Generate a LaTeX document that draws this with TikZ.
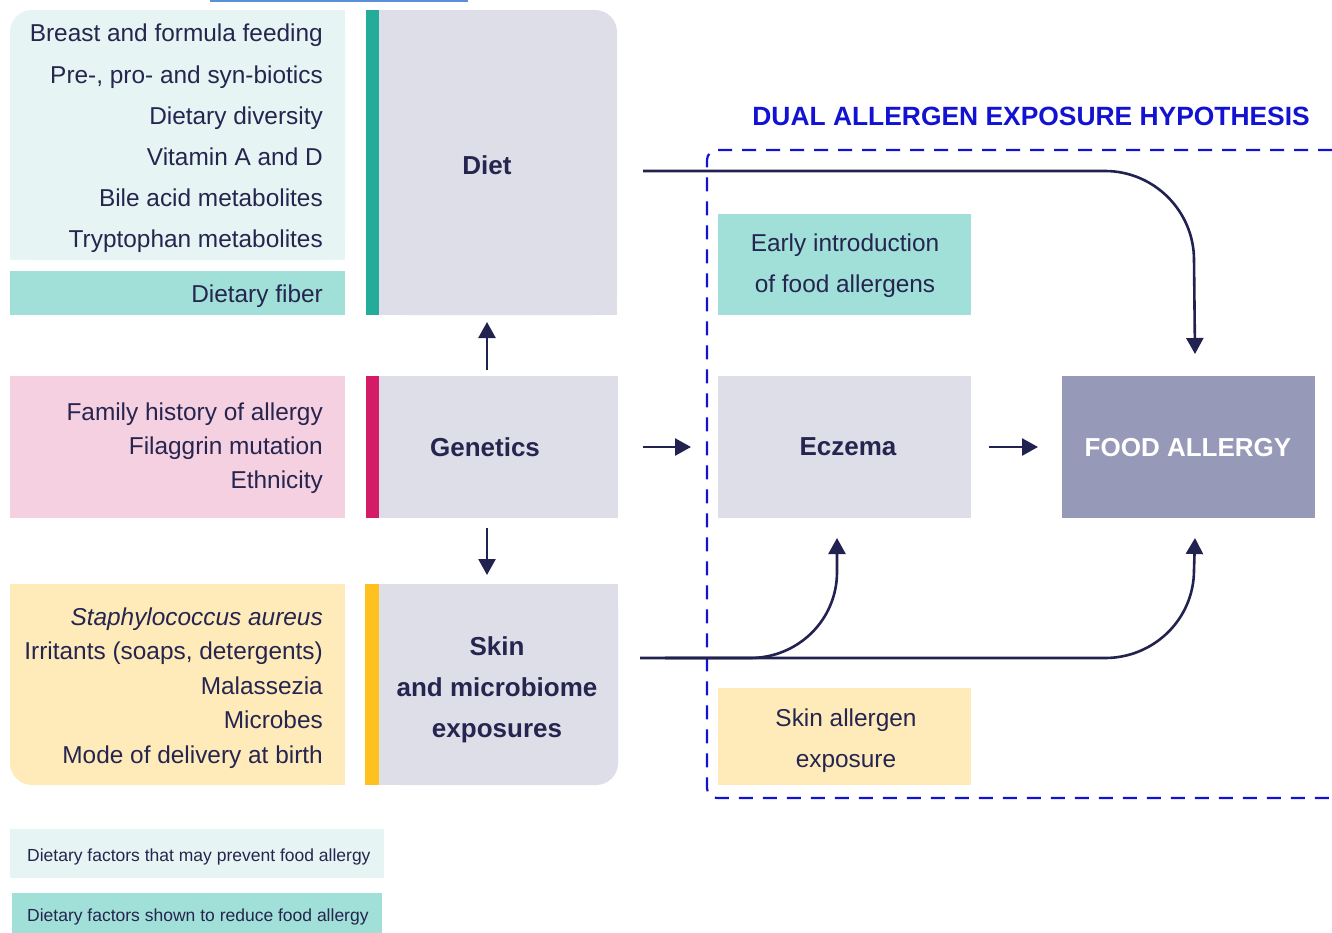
\documentclass[tikz,border=0pt]{standalone}
\usepackage{fontspec}
\setmainfont{Liberation Sans}
\usetikzlibrary{arrows.meta,calc}
\definecolor{navy}{HTML}{25254F}
\definecolor{arrowc}{HTML}{222250}
\definecolor{dietlight}{HTML}{E6F5F3}
\definecolor{tealmid}{HTML}{A0E0D8}
\definecolor{tealbar}{HTML}{24AC9B}
\definecolor{greybox}{HTML}{DEDEE8}
\definecolor{pinkl}{HTML}{F5D0E1}
\definecolor{magbar}{HTML}{D41B67}
\definecolor{yell}{HTML}{FEEBB9}
\definecolor{yellbar}{HTML}{FFC11F}
\definecolor{foodc}{HTML}{9699B8}
\definecolor{dblue}{HTML}{1212D2}
\definecolor{topblue}{HTML}{5B8FD8}
\begin{document}
\begin{tikzpicture}[x=1pt,y=-1pt,
  txt/.style={font=\fontsize{24.4pt}{29pt}\selectfont, text=navy, inner sep=0pt, text height=17.5pt, text depth=0pt},
  btxt/.style={font=\fontsize{26pt}{31pt}\selectfont\bfseries, text=navy, inner sep=0pt, text height=18.6pt, text depth=0pt},
  stxt/.style={font=\fontsize{17.5pt}{21pt}\selectfont, text=navy, inner sep=0pt, text height=12.5pt, text depth=0pt},
  box/.style={inner sep=0pt, outer sep=0pt, draw=none},
  arr/.style={draw=arrowc, line width=2.6pt, -{Triangle[length=16pt,width=17pt]}},
  dashline/.style={draw=dblue, line width=2.2pt, dash pattern=on 14pt off 10pt},
]
\useasboundingbox (0,0) rectangle (1332,932);
\fill[white] (0,0) rectangle (1332,932);

% top blue sliver
\draw[topblue, line width=2pt] (210,0.5) -- (468,0.5);

% ---------- Diet row ----------
\node[box, fill=dietlight, rounded corners=22pt, minimum width=335pt, minimum height=250pt] (dietpanel) at (177.5,135) {};
\fill[dietlight] (40,10) rectangle (345,260);
\fill[dietlight] (10,40) rectangle (345,260);
\node[box, fill=tealmid, minimum width=335pt, minimum height=44pt] (fiber) at (177.5,293) {};
\node[box, fill=tealbar, minimum width=13pt, minimum height=305pt] (dietbar) at (372.5,162.5) {};
\node[box, fill=greybox, rounded corners=22pt, minimum width=238pt, minimum height=305pt] (diet) at (498,162.5) {};
\fill[greybox] (379,10) rectangle (590,315);
\fill[greybox] (379,40) rectangle (617,315);

\node[txt, anchor=east] (d1) at (323,33) {Breast and formula feeding};
\node[txt, anchor=east] (d2) at (323,75) {Pre-, pro- and syn-biotics};
\node[txt, anchor=east] (d3) at (323,116) {Dietary diversity};
\node[txt, anchor=east] (d4) at (323,157) {Vitamin A and D};
\node[txt, anchor=east] (d5) at (323,198) {Bile acid metabolites};
\node[txt, anchor=east] (d6) at (323,239) {Tryptophan metabolites};
\node[txt, anchor=east] (d7) at (323,294) {Dietary fiber};
\node[btxt] (dietlbl) at (487,165) {Diet};

% ---------- Genetics row ----------
\node[box, fill=pinkl, minimum width=335pt, minimum height=142pt] (genpanel) at (177.5,447) {};
\node[box, fill=magbar, minimum width=13pt, minimum height=142pt] (genbar) at (372.5,447) {};
\node[box, fill=greybox, minimum width=239pt, minimum height=142pt] (gen) at (498.5,447) {};
\node[txt, anchor=east] (g1) at (323,412) {Family history of allergy};
\node[txt, anchor=east] (g2) at (323,446) {Filaggrin mutation};
\node[txt, anchor=east] (g3) at (323,480) {Ethnicity};
\node[btxt] (genlbl) at (485,447) {Genetics};

% ---------- Skin row ----------
\node[box, fill=yell, rounded corners=22pt, minimum width=335pt, minimum height=201pt] (skinpanel) at (177.5,684.5) {};
\fill[yell] (10,584) rectangle (345,755);
\fill[yell] (40,584) rectangle (345,785);
\node[box, fill=yellbar, minimum width=14pt, minimum height=201pt] (skinbar) at (372,684.5) {};
\node[box, fill=greybox, rounded corners=22pt, minimum width=239pt, minimum height=201pt] (skin) at (498.5,684.5) {};
\fill[greybox] (379,584) rectangle (618,755);
\fill[greybox] (379,584) rectangle (588,785);
\node[txt, anchor=east, font=\fontsize{24.4pt}{29pt}\selectfont\itshape] (s1) at (323,617) {Staphylococcus aureus};
\node[txt, anchor=east] (s2) at (323,651) {Irritants (soaps, detergents)};
\node[txt, anchor=east] (s3) at (323,686) {Malassezia};
\node[txt, anchor=east] (s4) at (323,720) {Microbes};
\node[txt, anchor=east] (s5) at (323,755) {Mode of delivery at birth};
\node[btxt] (sk1) at (497,646) {Skin};
\node[btxt] (sk2) at (497,687) {and microbiome};
\node[btxt] (sk3) at (497,728) {exposures};

% ---------- Legend ----------
\node[box, fill=dietlight, minimum width=374pt, minimum height=49pt] (leg1) at (197,853.5) {};
\node[stxt, anchor=west] (leg1t) at (27,855) {Dietary factors that may prevent food allergy};
\node[box, fill=tealmid, minimum width=370pt, minimum height=42pt] (leg2) at (197,914) {};
\node[stxt, anchor=west] (leg2t) at (27,915) {Dietary factors shown to reduce food allergy};

% ---------- Hypothesis ----------
\node[anchor=east, font=\fontsize{26.4pt}{31pt}\selectfont\bfseries, text=dblue, inner sep=0pt, text height=19pt, text depth=0pt] (title) at (1310,116) {DUAL ALLERGEN EXPOSURE HYPOTHESIS};
\draw[dashline, rounded corners=10pt] (1332,150) -- (707,150) -- (707,798) -- (1332,798);

\node[box, fill=tealmid, minimum width=253pt, minimum height=101pt] (early) at (844.5,264.5) {};
\node[txt] (e1) at (845,243) {Early introduction};
\node[txt] (e2) at (845,284) {of food allergens};

\node[box, fill=greybox, minimum width=253pt, minimum height=142pt] (ecz) at (844.5,447) {};
\node[btxt] (ecztxt) at (848,446) {Eczema};

\node[box, fill=foodc, minimum width=253pt, minimum height=142pt] (food) at (1188.5,447) {};
\node[btxt, text=white] (foodtxt) at (1188,447) {FOOD ALLERGY};

\node[box, fill=yell, minimum width=253pt, minimum height=97pt] (skinexp) at (844.5,736.5) {};
\node[txt] (x1) at (846,718) {Skin allergen};
\node[txt] (x2) at (846,759) {exposure};

% ---------- Connectors ----------
\coordinate (vx) at (487,0);
\draw[arr, shorten <=6pt, shorten >=7pt] (gen.north -| vx) -- (diet.south -| vx);
\draw[arr, shorten <=10pt, shorten >=9pt] (gen.south -| vx) -- (skin.north -| vx);
\draw[arr, shorten <=25pt, shorten >=27pt] (gen.east) -- (ecz.west);
\draw[arr, shorten <=18pt, shorten >=24pt] (ecz.east) -- (food.west);

\coordinate (dstart) at ($(diet.east)+(26,0)$);
\coordinate (dline) at (0,171);
\coordinate (fx) at (1195,0);
\draw[arr] (dstart |- dline) -- (1105,171) .. controls (1154,171) and (1194,211) .. (1194,260) -- ($(food.north -| fx)+(0,-22)$);

\coordinate (sline) at (0,658);
\draw[arr] ($(skin.east |- sline)+(22,0)$) -- (1105,658) .. controls (1154,658) and (1194,619) .. (1194,570) -- ($(food.south -| fx)+(0,20)$);
\coordinate (ex) at (837,0);
\draw[arr] (665,658) -- (750,658) .. controls (798,658) and (837,620) .. (837,572) -- ($(ecz.south -| ex)+(0,20)$);

\end{tikzpicture}
\end{document}
